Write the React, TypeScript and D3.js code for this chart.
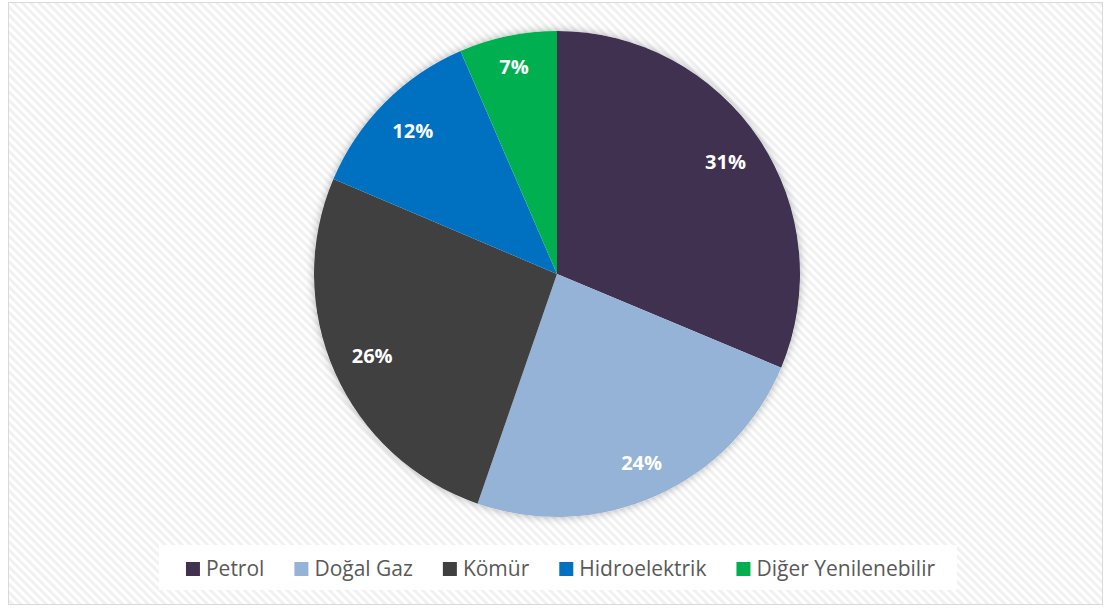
import { useEffect, useRef } from 'react';
import * as d3 from 'd3';

const categories = ['Petrol', 'Doğal Gaz', 'Kömür', 'Hidroelektrik', 'Diğer Yenilenebilir'];
// slice sizes (labels show them rounded)
const shares = [31.3, 24.0, 26.1, 12.1, 6.5];
const colors = ['#403151', '#95b3d7', '#404040', '#0070c0', '#00b050'];

const W = 1105;
const H = 608;
const FONT = '"Open Sans", "Noto Sans", sans-serif';

export default function App() {
  const ref = useRef<SVGSVGElement | null>(null);

  useEffect(() => {
    const svg = d3.select(ref.current);
    svg.selectAll('*').remove();

    const defs = svg.append('defs');
    const pat = defs.append('pattern')
      .attr('id', 'hatch')
      .attr('width', 6)
      .attr('height', 6)
      .attr('patternUnits', 'userSpaceOnUse')
      .attr('patternTransform', 'rotate(-45)');
    pat.append('rect').attr('width', 6).attr('height', 6).attr('fill', '#ffffff');
    pat.append('rect').attr('width', 3).attr('height', 6).attr('fill', '#f1f1f1');

    const shadow = defs.append('filter')
      .attr('id', 'shadow')
      .attr('x', '-10%').attr('y', '-10%')
      .attr('width', '120%').attr('height', '120%');
    shadow.append('feDropShadow')
      .attr('dx', 0).attr('dy', 0)
      .attr('stdDeviation', 4)
      .attr('flood-color', '#000')
      .attr('flood-opacity', 0.3);

    // chart area + border
    svg.append('rect')
      .attr('x', 8.5).attr('y', 2.5)
      .attr('width', 1094).attr('height', 602)
      .attr('fill', 'url(#hatch)')
      .attr('stroke', '#d9d9d9')
      .attr('stroke-width', 1);

    // pie
    const cx = 557, cy = 274, r = 243;
    const pie = d3.pie<number>().sort(null).value(d => d);
    const arcs = pie(shares);
    const arc = d3.arc<d3.PieArcDatum<number>>().innerRadius(0).outerRadius(r);

    const g = svg.append('g').attr('transform', `translate(${cx},${cy})`);
    g.append('circle').attr('r', r).attr('fill', '#fff').attr('filter', 'url(#shadow)');
    g.selectAll('path.slice')
      .data(arcs)
      .join('path')
      .attr('class', 'slice')
      .attr('d', arc)
      .attr('fill', (_, i) => colors[i]);

    // "inside end" labels: push the label box out until its far corner touches r - pad
    const edge = r - 18;
    const labels = g.selectAll('text.lbl')
      .data(arcs)
      .join('text')
      .attr('class', 'lbl')
      .attr('text-anchor', 'middle')
      .attr('dy', '0.35em')
      .attr('fill', '#ffffff')
      .attr('font-family', FONT)
      .attr('font-weight', 700)
      .attr('font-size', 20)
      .text(d => `${Math.round(d.data)}%`);
    labels.attr('transform', function (d) {
      const w = (this as SVGTextElement).getComputedTextLength();
      const h = 20;
      const a = (d.startAngle + d.endAngle) / 2;
      const ux = Math.sin(a), uy = -Math.cos(a);
      const c1 = Math.sign(ux) * w / 2, c2 = Math.sign(uy) * h / 2;
      const uc = ux * c1 + uy * c2;
      const cc = c1 * c1 + c2 * c2;
      const dist = -uc + Math.sqrt(uc * uc - cc + edge * edge);
      return `translate(${ux * dist},${uy * dist})`;
    });

    // legend
    const legendBox = svg.append('rect')
      .attr('y', 545)
      .attr('height', 45)
      .attr('fill', '#ffffff');
    const items = svg.append('g').selectAll('g.item')
      .data(categories)
      .join('g')
      .attr('class', 'item');
    items.append('rect')
      .attr('width', 14).attr('height', 14)
      .attr('y', -7)
      .attr('fill', (_, i) => colors[i]);
    items.append('text')
      .attr('x', 20)
      .attr('dy', '0.35em')
      .attr('fill', '#595959')
      .attr('font-family', FONT)
      .attr('font-size', 21)
      .text(d => d);

    const gap = 30;
    const widths: number[] = [];
    items.each(function () {
      const t = d3.select(this).select('text').node() as SVGTextElement;
      widths.push(20 + t.getComputedTextLength());
    });
    const total = d3.sum(widths) + gap * (widths.length - 1);
    let x = 560.5 - total / 2;
    items.attr('transform', (_, i) => {
      const tx = x;
      x += widths[i] + gap;
      return `translate(${tx},569)`;
    });
    legendBox.attr('x', 560.5 - total / 2 - 27).attr('width', total + 49);
  }, []);

  return (
    <svg
      ref={ref}
      width={W}
      height={H}
      style={{ position: 'absolute', left: 0, top: 0, display: 'block' }}
    />
  );
}
